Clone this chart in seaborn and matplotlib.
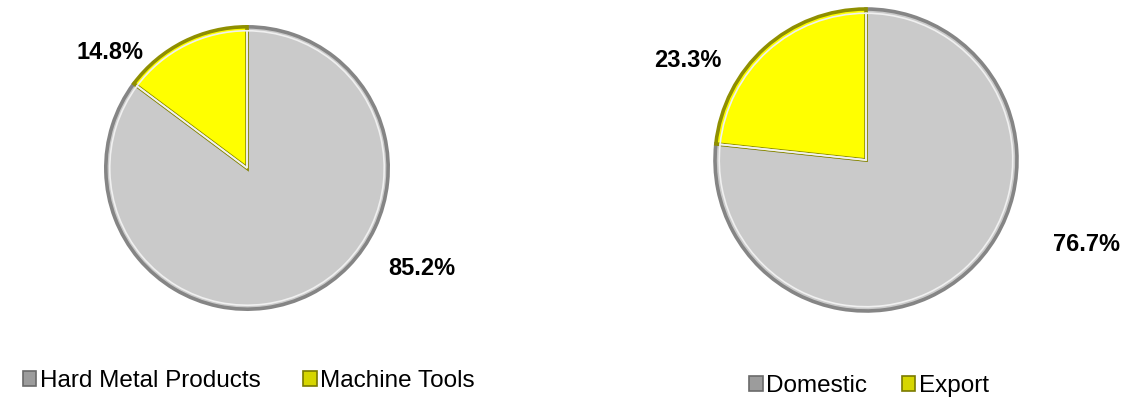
#!/usr/bin/env python3
"""Two share pies: sales by product line and by market."""

import matplotlib

matplotlib.use("Agg")
import matplotlib.patches as mpatches
import matplotlib.pyplot as plt
import seaborn as sns

W, H = 1147, 400

product_labels = ["Hard Metal Products", "Machine Tools"]
product_shares = [85.2, 14.8]

market_labels = ["Domestic", "Export"]
market_shares = [76.7, 23.3]

FACE = ["#cacaca", "#ffff00"]
EDGE = ["#858585", "#8f8f00"]
LEGEND_FACE = ["#9c9c9c", "#d6d600"]
LEGEND_EDGE = ["#6a6a6a", "#7a7a00"]


def px_axes(fig, cx, cy, r):
    # square axes centred on (cx, cy) in image pixels, top-left origin
    return fig.add_axes([(cx - r) / W, (H - cy - r) / H, 2 * r / W, 2 * r / H])


def draw_pie(ax, shares, label_pos):
    wedges, _ = ax.pie(
        shares,
        colors=FACE,
        startangle=90,
        counterclock=False,
        radius=1.0,
        wedgeprops=dict(edgecolor=EDGE[0], linewidth=2.6),
    )
    # lighter inner rim to suggest the bevel
    ax.pie(
        shares,
        colors=["none", "none"],
        startangle=90,
        counterclock=False,
        radius=0.972,
        wedgeprops=dict(edgecolor="#f0f0f0", linewidth=1.2, fill=False),
    )
    wedges[1].set_edgecolor(EDGE[1])
    for v, (x, y) in zip(shares, label_pos):
        ax.text(x, y, f"{v:.1f}%", ha="center", va="center",
                fontsize=17, fontweight="bold", color="black")
    ax.set_xlim(-1.02, 1.02)
    ax.set_ylim(-1.02, 1.02)
    ax.set_aspect("equal")
    ax.axis("off")
    return wedges


def add_legend(fig, labels, x, y, spacing):
    handles = [
        mpatches.Patch(facecolor=f, edgecolor=e, linewidth=1.2, label=lab)
        for f, e, lab in zip(LEGEND_FACE, LEGEND_EDGE, labels)
    ]
    leg = fig.legend(
        handles=handles,
        loc="center",
        bbox_to_anchor=(x / W, 1 - y / H),
        ncol=2,
        frameon=False,
        fontsize=17.5,
        handlelength=0.55,
        handleheight=0.55,
        handletextpad=0.15,
        columnspacing=spacing,
        borderpad=0,
    )
    for t in leg.get_texts():
        t.set_color("black")


def main() -> None:
    sns.set_theme(style="white")
    plt.rcParams["font.family"] = ["Liberation Sans", "DejaVu Sans"]
    plt.rcParams["text.color"] = "black"

    fig = plt.figure(figsize=(W / 100, H / 100), dpi=100)

    ax_l = px_axes(fig, 247, 168, 144)
    # label positions in pie-radius units, gray then yellow
    draw_pie(ax_l, product_shares, [(1.24, -0.71), (-0.97, 0.82)])

    ax_r = px_axes(fig, 866, 160, 154)
    draw_pie(ax_r, market_shares, [(1.46, -0.56), (-1.18, 0.66)])

    add_legend(fig, product_labels, 249, 381, 1.75)
    add_legend(fig, market_labels, 869, 386, 1.4)

    fig.savefig("out.png", dpi=100)
    plt.close(fig)


if __name__ == "__main__":
    main()
